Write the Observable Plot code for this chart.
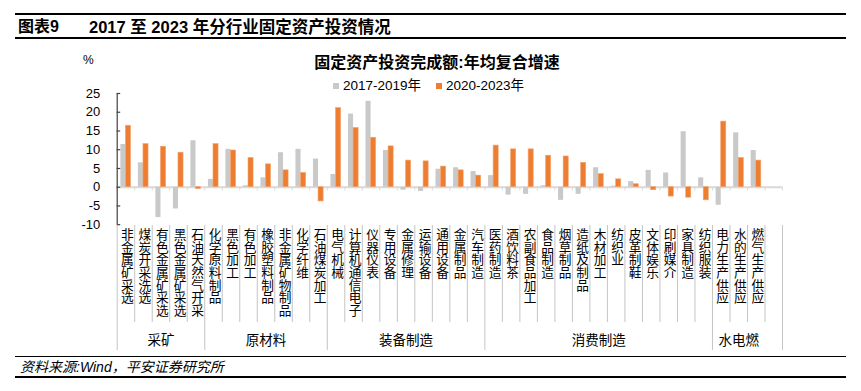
<!DOCTYPE html>
<html>
<head>
<meta charset="utf-8">
<script src="https://cdn.jsdelivr.net/npm/d3@7"></script>
<script src="https://cdn.jsdelivr.net/npm/@observablehq/plot@0.6"></script>
<style>
  html, body { margin: 0; padding: 0; background: #fff; }
  body { width: 861px; height: 391px; overflow: hidden; font-family: "Liberation Sans", "Noto Sans CJK SC", sans-serif; }
  #wrap { position: relative; width: 861px; height: 391px; }
  .abs { position: absolute; white-space: nowrap; }
  .hline { position: absolute; left: 15px; width: 831px; height: 0; }
  .vlabel { writing-mode: vertical-rl; }
</style>
</head>
<body>
<div id="wrap">
  <div class="hline" style="top:13px;border-top:2px solid #000"></div>
  <div class="abs" style="left:18px;top:16px;height:22px;line-height:22px;font-size:16px;font-weight:bold;color:#000;">图表9</div>
  <div class="abs" style="left:89px;top:16px;height:22px;line-height:22px;font-size:16.5px;font-weight:bold;color:#000;">2017 至 2023 年分行业固定资产投资情况</div>
  <div class="hline" style="top:37px;border-top:2px solid #000"></div>

  <div id="chart" class="abs" style="left:0;top:0;"></div>

  <div class="abs" style="left:83px;top:51px;height:18px;line-height:18px;font-size:12px;color:#000;">%</div>
  <div class="abs" style="left:0;width:874px;text-align:center;top:53px;height:20px;line-height:20px;font-size:16px;font-weight:bold;color:#000;">固定资产投资完成额:年均复合增速</div>
  <div id="legend" class="abs" style="left:333px;top:77px;height:18px;line-height:18px;font-size:13.5px;color:#000;"></div>

  <div class="hline" style="top:356px;border-top:1.5px solid #000"></div>
  <div class="abs" style="left:20px;top:358px;height:18px;line-height:18px;font-size:14px;font-style:italic;color:#000;">资料来源:Wind，平安证券研究所</div>
  <div class="hline" style="top:376px;border-top:2px solid #000"></div>
</div>
<script>
// ---- data ----
const categories = ["非金属矿采选", "煤炭开采洗选", "有色金属矿采选", "黑色金属矿采选", "石油天然气开采",
  "化学原料制品", "黑色加工", "有色加工", "橡胶塑料制品", "非金属矿物制品", "化学纤维", "石油煤炭加工",
  "电气机械", "计算机通信电子", "仪器仪表", "专用设备", "金属修理", "运输设备", "通用设备", "金属制品", "汽车制造",
  "医药制造", "酒饮料茶", "农副食品加工", "食品制造", "烟草制品", "造纸及制品", "木材加工", "纺织业", "皮革制鞋",
  "文体娱乐", "印刷媒介", "家具制造", "纺织服装",
  "电力生产供应", "水的生产供应", "燃气生产供应"];
const series = ["2017-2019年", "2020-2023年"];
const values2017_2019 = [11.4, 6.5, -8.1, -5.8, 12.4,
  2.1, 10.1, 0.4, 2.5, 9.2, 10.1, 7.5,
  3.4, 19.5, 22.9, 9.8, -0.8, -1.1, 4.8, 5.2, 4.2,
  3.1, -2.1, -1.9, 0.4, -3.5, -1.9, 5.2, 0.3, 1.5, 4.5, 3.8, 14.8, 2.5,
  -4.8, 14.5, 9.8];
const values2020_2023 = [16.4, 11.5, 10.8, 9.2, -0.5,
  11.5, 9.8, 7.8, 6.1, 4.5, 3.8, -3.8,
  21.1, 15.8, 13.2, 10.9, 7.1, 6.9, 5.5, 4.5, 3.1,
  11.1, 10.1, 10.1, 8.4, 8.2, 6.5, 3.5, 2.1, 0.8, -0.8, -2.5, -2.8, -3.5,
  17.5, 7.8, 7.1];
const groups = ["采矿", "原材料", "装备制造", "消费制造", "水电燃"];
const groupSizes = [5, 7, 9, 13, 3];
const yTicks = [-10, -5, 0, 5, 10, 15, 20, 25];

// ---- styling ----
const colors = ["#c9c9c9", "#ed7d31"];
const font = "'Liberation Sans', 'Noto Sans CJK SC', sans-serif";
const nSlots = categories.length + 1; // one empty slot at the end

// layout helpers
const W = 861, H = 391;
const mTop = 93, mBottom = 166.8, mLeft = 116.7, mRight = 79;
const yDom = [-10, 25];
const pxPerUnit = (H - mTop - mBottom) / (yDom[1] - yDom[0]);
const yBottomPx = H - mBottom;
const yAt = p => yDom[0] - (p - yBottomPx) / pxPerUnit; // pixel row -> y units (below the plot)

const rows = categories.map((c, i) => ({i, c, a: values2017_2019[i], b: values2020_2023[i]}));

// group boundaries
const groupEdges = [0];
groupSizes.forEach(s => groupEdges.push(groupEdges[groupEdges.length - 1] + s));
const longEdges = groupEdges.slice(0, -1).concat([nSlots]);
const innerEdges = d3.range(1, categories.length + 1).filter(e => !longEdges.includes(e));
const groupRows = groups.map((g, k) => ({g, mid: (groupEdges[k] + groupEdges[k + 1]) / 2}));

const chart = Plot.plot({
  width: W, height: H,
  marginTop: mTop, marginBottom: mBottom, marginLeft: mLeft, marginRight: mRight,
  x: {type: "linear", domain: [0, nSlots], axis: null},
  y: {domain: yDom},
  style: {fontFamily: font, background: "transparent", overflow: "visible", color: "#000"},
  marks: [
    Plot.ruleY([0], {x1: 0, x2: nSlots, stroke: "#d9d9d9", strokeWidth: 2}),
    Plot.ruleX(d3.range(0, nSlots + 1), {x: d => d, y1: 0, y2: yAt(190.5), stroke: "#d9d9d9", strokeWidth: 1}),
    Plot.rectY(rows, {x1: d => d.i + 0.21, x2: d => d.i + 0.5, y1: 0, y2: d => d.a, fill: colors[0]}),
    Plot.rectY(rows, {x1: d => d.i + 0.5, x2: d => d.i + 0.79, y1: 0, y2: d => d.b, fill: colors[1], stroke: "#f5a36b", strokeWidth: 0.6}),
    Plot.ruleX([0], {y1: yDom[0], y2: yDom[1], stroke: "#404040", strokeWidth: 1.2}),
    Plot.ruleY(yTicks, {y: d => d, x1: 0, x2: 0.2, stroke: "#404040", strokeWidth: 1.2}),
    Plot.axisY({ticks: yTicks, tickSize: 0, tickPadding: 17, fontSize: 13, label: null, tickFormat: d => String(d)}),
    Plot.ruleX(innerEdges, {x: d => d, y1: yAt(225), y2: yAt(322), stroke: "#c4c4c4", strokeWidth: 1}),
    Plot.ruleX(longEdges, {x: d => d, y1: yAt(225), y2: yAt(350), stroke: "#c4c4c4", strokeWidth: 1}),
    Plot.text(rows, {x: d => d.i + 0.5, y: yDom[0], dy: 3, text: "c", className: "vlabel",
      textAnchor: "start", fontSize: 12.7, fill: "#000"}),
    Plot.text(groupRows, {x: "mid", y: yDom[0], dy: 116, text: "g", fontSize: 13.5, fill: "#000"})
  ]
});
// vertical (top-to-bottom) category labels
d3.select(chart).selectAll(".vlabel text").attr("y", null).attr("dy", null);
document.getElementById("chart").appendChild(chart);

// legend
const legend = document.getElementById("legend");
series.forEach((s, k) => {
  const sw = document.createElement("span");
  sw.style.cssText = `display:inline-block;width:6px;height:6px;background:${colors[k]};margin-right:4px;vertical-align:1px;`;
  const t = document.createElement("span");
  t.textContent = s;
  t.style.marginRight = k === 0 ? "15px" : "0";
  legend.appendChild(sw);
  legend.appendChild(t);
});
</script>
</body>
</html>
